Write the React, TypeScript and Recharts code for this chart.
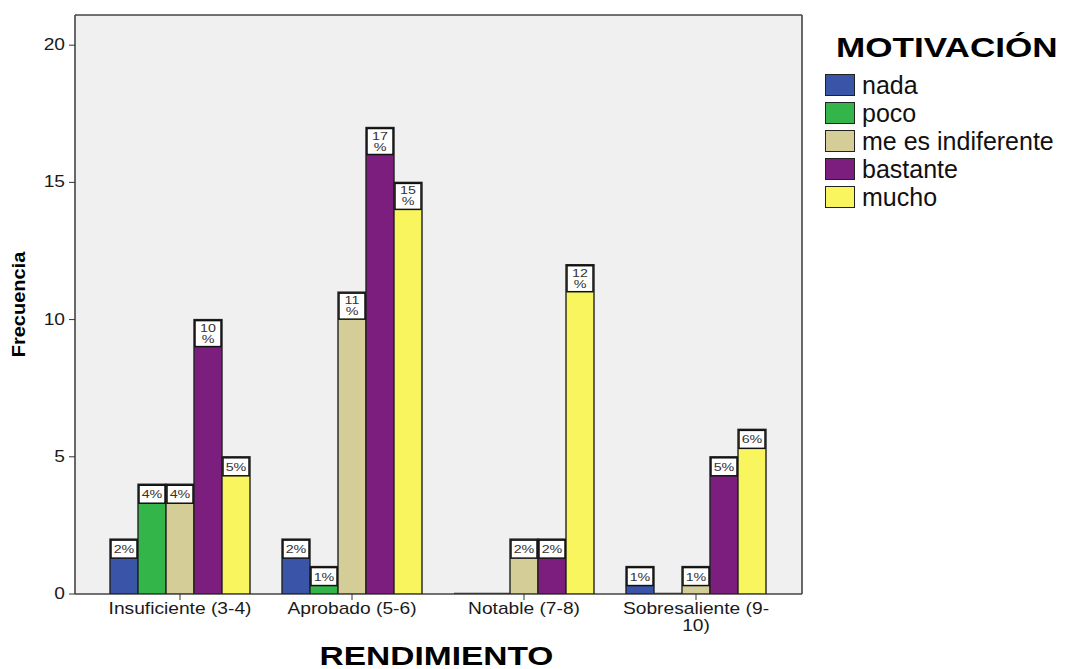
import React from 'react';
import { BarChart, Bar, XAxis, YAxis, CartesianGrid, Legend, LabelList } from 'recharts';

const categories = ['Insuficiente (3-4)', 'Aprobado (5-6)', 'Notable (7-8)', 'Sobresaliente (9-10)'];
const nada = [2, 2, 0, 1];
const poco = [4, 1, 0, 0];
const indiferente = [4, 11, 2, 1];
const bastante = [10, 17, 2, 5];
const mucho = [5, 15, 12, 6];
const yTicks = [0, 5, 10, 15, 20];

const FONT = '"Liberation Sans", Arial, Helvetica, sans-serif';

const series = [
  { key: 'nada', name: 'nada', values: nada, color: '#3a55a7' },
  { key: 'poco', name: 'poco', values: poco, color: '#33b54a' },
  { key: 'indiferente', name: 'me es indiferente', values: indiferente, color: '#d4cd98' },
  { key: 'bastante', name: 'bastante', values: bastante, color: '#7b1e7e' },
  { key: 'mucho', name: 'mucho', values: mucho, color: '#f9f55e' },
];

const data = categories.map((name, i) => {
  const row: Record<string, any> = { name };
  series.forEach((s) => (row[s.key] = s.values[i]));
  return row;
});

const total = series.reduce((acc, s) => acc + s.values.reduce((a, b) => a + b, 0), 0);

// bars with stroke; zero counts still show a flat line on the baseline
const BarShape = (props: any) => {
  const { x, y, width, height, fill } = props;
  if (!height) {
    return <line x1={x} x2={x + width} y1={y} y2={y} stroke="#333" strokeWidth={2.5} />;
  }
  return <rect x={x} y={y} width={width} height={height} fill={fill} stroke="#222" strokeWidth={1.4} />;
};

// white percent box sitting inside the top of each bar
const PctLabel = (props: any) => {
  const { x, y, width, value } = props;
  if (!value) return null;
  const pct = `${Math.round((value / total) * 100)}%`;
  const twoLine = pct.length > 2;
  const h = twoLine ? 27 : 19;
  const cx = x + width / 2;
  const txt = { fontFamily: FONT, fontSize: 11, fill: '#333' };
  return (
    <g>
      <rect x={x + 1} y={y + 1} width={width - 2} height={h - 1} fill="#fff" stroke="#111" strokeWidth={1.5} />
      {twoLine ? (
        <>
          <text transform={`translate(${cx},${y + 12}) scale(1.3,1)`} textAnchor="middle" style={txt}>
            {pct.slice(0, -1)}
          </text>
          <text transform={`translate(${cx},${y + 23}) scale(1.3,1)`} textAnchor="middle" style={txt}>
            %
          </text>
        </>
      ) : (
        <text transform={`translate(${cx},${y + 14}) scale(1.3,1)`} textAnchor="middle" style={txt}>
          {pct}
        </text>
      )}
    </g>
  );
};

const XTick = (props: any) => {
  const { x, y, payload } = props;
  const label: string = payload.value;
  let lines = [label];
  if (label.length > 18) {
    const cut = label.lastIndexOf('-') + 1;
    lines = [label.slice(0, cut), label.slice(cut)];
  }
  return (
    <g>
      {lines.map((l, i) => (
        <text
          key={i}
          transform={`translate(${x},${y + 12 + i * 17}) scale(1.2,1)`}
          textAnchor="middle"
          style={{ fontFamily: FONT, fontSize: 16, fill: '#1a1a1a' }}
        >
          {l}
        </text>
      ))}
    </g>
  );
};

const YTick = (props: any) => {
  const { x, y, payload } = props;
  return (
    <text
      transform={`translate(${x - 2},${y + 5}) scale(1.2,1)`}
      textAnchor="end"
      style={{ fontFamily: FONT, fontSize: 16, fill: '#1a1a1a' }}
    >
      {payload.value}
    </text>
  );
};

const renderLegend = (props: any) => {
  const order = series.map((s) => s.name);
  const payload = [...(props.payload || [])].sort(
    (a: any, b: any) => order.indexOf(a.value) - order.indexOf(b.value)
  );
  return (
    <div style={{ fontFamily: FONT, color: '#111', paddingLeft: 3 }}>
      <div
        style={{
          fontSize: 27,
          fontWeight: 'bold',
          lineHeight: '30px',
          height: 38,
          marginLeft: 11,
          transform: 'scaleX(1.3)',
          transformOrigin: 'left',
          whiteSpace: 'nowrap',
          color: '#000',
        }}
      >
        MOTIVACIÓN
      </div>
      {payload.map((e: any) => (
        <div key={e.value} style={{ display: 'flex', alignItems: 'center', height: 28 }}>
          <span
            style={{
              display: 'inline-block',
              width: 30,
              height: 22,
              background: e.color,
              border: '1.5px solid #222',
              boxSizing: 'border-box',
            }}
          />
          <span style={{ marginLeft: 7, fontSize: 25, lineHeight: '28px', whiteSpace: 'nowrap' }}>{e.value}</span>
        </div>
      ))}
    </div>
  );
};

export default function App() {
  return (
    <div style={{ position: 'absolute', left: 0, top: 0, width: 1075, height: 669, background: '#fff' }}>
      <BarChart
        width={1075}
        height={669}
        data={data}
        margin={{ top: 15, right: 20, bottom: 0, left: 0 }}
        barGap={0}
      >
        <CartesianGrid
          fill="#f0f0f0"
          stroke="#444"
          strokeWidth={1.6}
          horizontalCoordinatesGenerator={({ offset }: any) => [offset.top, offset.top + offset.height]}
          verticalCoordinatesGenerator={({ offset }: any) => [offset.left, offset.left + offset.width]}
        />
        <XAxis
          dataKey="name"
          height={75}
          padding={{ left: 19, right: 20 }}
          axisLine={false}
          tickLine={{ stroke: '#333' }}
          tickSize={6}
          tick={<XTick />}
          interval={0}
          label={(p: any) => {
            const vb = p.viewBox;
            return (
              <text
                transform={`translate(${vb.x + vb.width / 2 - 2},${vb.y + 71}) scale(1.34,1)`}
                textAnchor="middle"
                style={{ fontFamily: FONT, fontSize: 25, fontWeight: 'bold', fill: '#000' }}
              >
                RENDIMIENTO
              </text>
            );
          }}
        />
        <YAxis
          width={75}
          domain={[0, 21.1]}
          ticks={yTicks}
          allowDataOverflow
          axisLine={false}
          tickLine={{ stroke: '#333' }}
          tickSize={6}
          tick={<YTick />}
          label={(p: any) => {
            const vb = p.viewBox;
            return (
              <text
                transform={`translate(25,${vb.y + vb.height / 2}) rotate(-90) scale(1,0.95)`}
                textAnchor="middle"
                style={{ fontFamily: FONT, fontSize: 20, fontWeight: 'bold', fill: '#000' }}
              >
                Frecuencia
              </text>
            );
          }}
        />
        <Legend
          layout="vertical"
          align="right"
          verticalAlign="top"
          content={renderLegend}
          wrapperStyle={{ top: 33, left: 822, width: 253 }}
        />
        {series.map((s) => (
          <Bar
            key={s.key}
            dataKey={s.key}
            name={s.name}
            fill={s.color}
            barSize={28}
            shape={<BarShape />}
            isAnimationActive={false}
          >
            <LabelList dataKey={s.key} content={<PctLabel />} />
          </Bar>
        ))}
      </BarChart>
    </div>
  );
}
